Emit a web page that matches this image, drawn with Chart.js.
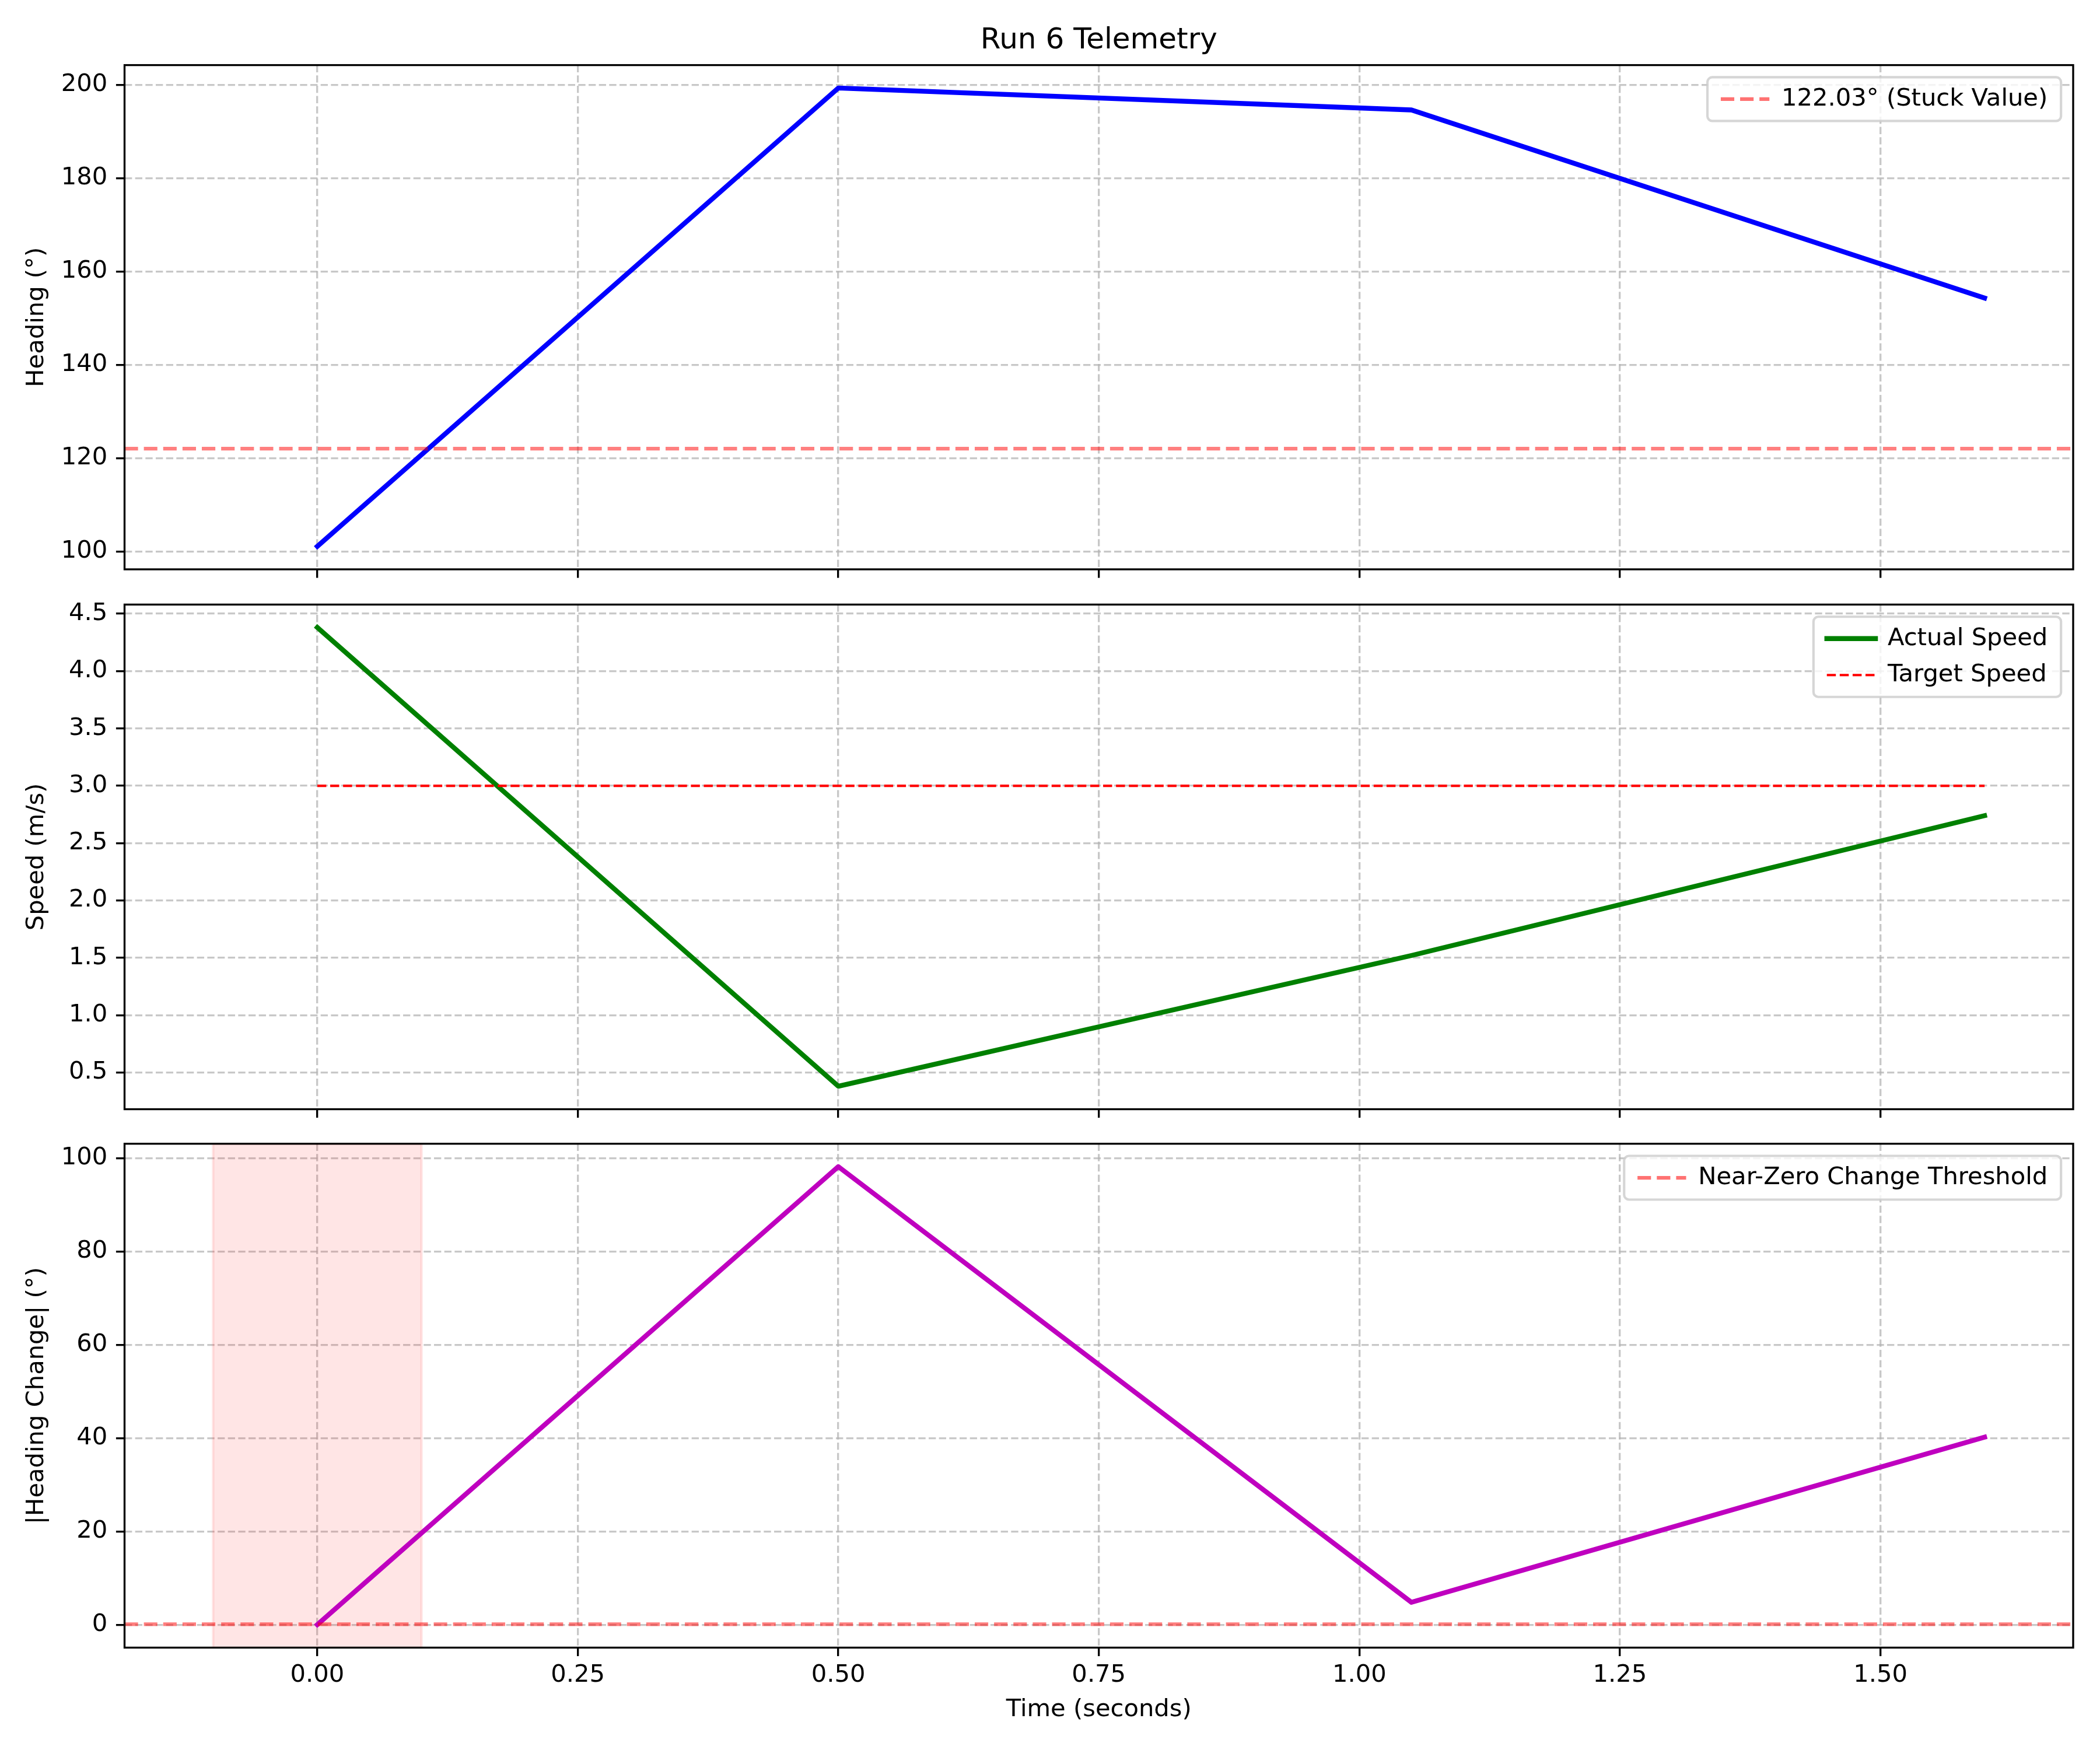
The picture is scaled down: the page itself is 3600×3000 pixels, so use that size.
<!DOCTYPE html>
<html>
<head>
<meta charset="utf-8">
<script src="https://cdn.jsdelivr.net/npm/chart.js@4.4.1/dist/chart.umd.min.js"></script>
<style>
html, body { margin: 0; padding: 0; background: #ffffff; }
#wrap { position: relative; width: 3600px; height: 3000px; background: #ffffff; overflow: hidden; }
#wrap canvas { position: absolute; left: 0; }
</style>
</head>
<body>
<div id="wrap">
  <canvas id="c1" width="3600" height="996" style="top:0px"></canvas>
  <canvas id="c2" width="3600" height="926" style="top:996px"></canvas>
  <canvas id="c3" width="3600" height="1080" style="top:1920px"></canvas>
</div>
<script>
// ---------------- data ----------------
const timeS = [0, 0.5, 1.05, 1.6];
const heading = [101.1, 199.3, 194.6, 154.3];
const actualSpeed = [4.38, 0.38, 1.52, 2.74];
const targetSpeed = [3.0, 3.0, 3.0, 3.0];
const headingChange = [0, 98.2, 4.8, 40.2];
const stuckValue = 122.03;
const nearZeroThreshold = 0.1;
const flagSpan = [-0.1, 0.1];

const xTicks = [0, 0.25, 0.5, 0.75, 1.0, 1.25, 1.5];
const headingTicks = [100, 120, 140, 160, 180, 200];
const speedTicks = [0.5, 1.0, 1.5, 2.0, 2.5, 3.0, 3.5, 4.0, 4.5];
const changeTicks = [0, 20, 40, 60, 80, 100];

const chartTitle = 'Run 6 Telemetry';
const xTitle = 'Time (seconds)';
const headingTitle = 'Heading (°)';
const speedTitle = 'Speed (m/s)';
const changeTitle = '|Heading Change| (°)';
const stuckLabel = stuckValue.toFixed(2) + '° (Stuck Value)';
const actualLabel = 'Actual Speed';
const targetLabel = 'Target Speed';
const thresholdLabel = 'Near-Zero Change Threshold';

// ---------------- styling helpers ----------------
const PX = 300 / 72;
const FS = 10 * PX;
const TS = 12 * PX;
const dash = (lw) => [3.7 * lw * PX, 1.6 * lw * PX];

function pad5(vals) {
  const lo = Math.min(...vals), hi = Math.max(...vals), r = hi - lo;
  return [lo - 0.05 * r, hi + 0.05 * r];
}
const xLim = pad5([...timeS, ...flagSpan]);
const headingLim = pad5([...heading, stuckValue]);
const speedLim = pad5([...actualSpeed, ...targetSpeed]);
const changeLim = pad5([...headingChange, nearZeroThreshold]);

const pts = (xs, ys) => xs.map((x, i) => ({ x: x, y: ys[i] }));
const hline = (y) => [{ x: xLim[0], y: y }, { x: xLim[1], y: y }];

Chart.defaults.font.family = "'DejaVu Sans', 'Liberation Sans', sans-serif";
Chart.defaults.font.size = FS;
Chart.defaults.color = '#000000';

const AX_LEFT = 213.5;
const PAD_RIGHT = 3600 - 3554;

// matplotlib-like legend geometry
const BORDERPAD = 0.4 * FS, AXPAD = 0.5 * FS, TEXTPAD = 0.8 * FS, LABELSP = 0.5 * FS;

const mplLegend = {
  id: 'mplLegend',
  beforeUpdate(chart) {
    const lg = chart.legend;
    if (lg && !lg.__mpl) {
      lg.__mpl = true;
      const fit0 = lg.fit;
      lg.fit = function () { fit0.call(this); this.__w = this.width; this.width = 0; };
    }
  },
  afterLayout(chart) {
    const lg = chart.legend;
    if (!lg || !lg.columnSizes || !lg.columnSizes.length || !lg.legendItems) return;
    const a = chart.chartArea;
    const p = lg.options.labels.padding;
    const n = lg.legendItems.length;
    const cw = lg.columnSizes[0].width;
    const extra = TEXTPAD - FS / 2;
    const fw = cw + 2 * BORDERPAD + extra;
    const fh = 2 * BORDERPAD + n * FS + (n - 1) * LABELSP;
    const fr = a.right - AXPAD, ft = a.top + AXPAD, fl = fr - fw;
    lg.__frame = { x: fl, y: ft, w: fw, h: fh };
    lg.left = fl + BORDERPAD - p + extra / 2;
    lg.top = ft + BORDERPAD - p;
    lg.width = lg.__w;
    lg.right = lg.left + lg.width;
    lg.height = p + n * (FS + p) + 2;
    lg.bottom = lg.top + lg.height;
  },
  afterDatasetsDraw(chart) {
    const a = chart.chartArea, ctx = chart.ctx;
    ctx.save();
    ctx.strokeStyle = '#000000';
    ctx.lineWidth = 0.8 * PX;
    ctx.strokeRect(a.left, a.top, a.right - a.left, a.bottom - a.top);
    ctx.restore();
  },
  afterDraw(chart) {
    const lg = chart.legend;
    if (!lg || !lg.__frame) return;
    const f = lg.__frame, ctx = chart.ctx, r = 0.2 * FS;
    ctx.save();
    ctx.beginPath();
    ctx.moveTo(f.x + r, f.y);
    ctx.lineTo(f.x + f.w - r, f.y);
    ctx.arcTo(f.x + f.w, f.y, f.x + f.w, f.y + r, r);
    ctx.lineTo(f.x + f.w, f.y + f.h - r);
    ctx.arcTo(f.x + f.w, f.y + f.h, f.x + f.w - r, f.y + f.h, r);
    ctx.lineTo(f.x + r, f.y + f.h);
    ctx.arcTo(f.x, f.y + f.h, f.x, f.y + f.h - r, r);
    ctx.lineTo(f.x, f.y + r);
    ctx.arcTo(f.x, f.y, f.x + r, f.y, r);
    ctx.closePath();
    ctx.fillStyle = 'rgba(255,255,255,0.8)';
    ctx.fill();
    ctx.strokeStyle = 'rgba(204,204,204,0.8)';
    ctx.lineWidth = 1.0 * PX;
    ctx.stroke();
    ctx.restore();
    lg.draw();
  }
};

function gridOpts() {
  return {
    color: 'rgba(176,176,176,0.7)',
    lineWidth: 0.8 * PX,
    drawTicks: true,
    tickLength: 3.5 * PX,
    tickWidth: 0.8 * PX,
    tickColor: '#000000',
    tickBorderDash: []
  };
}

function zeroPad(s) { s.paddingLeft = 0; s.paddingRight = 0; s.paddingTop = 0; s.paddingBottom = 0; }

function makeChart(id, cfg) {
  const showX = !!cfg.showXLabels;
  return new Chart(document.getElementById(id), {
    type: 'line',
    data: { datasets: cfg.datasets },
    options: {
      responsive: false,
      animation: false,
      devicePixelRatio: 1,
      events: [],
      layout: { autoPadding: false, padding: { left: 0, right: PAD_RIGHT, top: cfg.padTop, bottom: 0 } },
      elements: { point: { radius: 0, hoverRadius: 0 }, line: { tension: 0 } },
      plugins: {
        tooltip: { enabled: false },
        title: cfg.title ? {
          display: true, text: cfg.title, fullSize: false, align: 'center', position: 'top',
          font: { size: TS, weight: 'normal' }, color: '#000000',
          padding: { top: 40, bottom: 111.6 - 40 - TS * 1.2 }
        } : { display: false },
        legend: {
          display: true,
          position: 'right',
          align: 'start',
          labels: {
            usePointStyle: true,
            pointStyle: 'line',
            pointStyleWidth: 2 * FS,
            padding: LABELSP,
            font: { size: FS },
            color: '#000000',
            filter: (item) => !!item.text,
            sort: (a, b) => a.datasetIndex - b.datasetIndex,
            generateLabels(chart) {
              const base = Chart.defaults.plugins.legend.labels.generateLabels(chart);
              return base.map((it) => {
                const ds = chart.data.datasets[it.datasetIndex];
                return Object.assign(it, {
                  lineDash: ds.borderDash || [],
                  lineWidth: ds.borderWidth,
                  strokeStyle: ds.borderColor,
                  pointStyle: 'line',
                  lineCap: ds.borderDash ? 'butt' : 'square'
                });
              });
            }
          }
        }
      },
      scales: {
        x: {
          type: 'linear', position: 'bottom', bounds: 'data',
          min: xLim[0], max: xLim[1],
          afterBuildTicks: (s) => { s.ticks = xTicks.map((v) => ({ value: v })); },
          afterFit: (s) => { s.height = cfg.xHeight; zeroPad(s); },
          ticks: {
            autoSkip: false, maxRotation: 0, minRotation: 0,
            padding: 8, font: { size: FS }, color: '#000000',
            callback: (v) => showX ? Number(v).toFixed(2) : ''
          },
          grid: gridOpts(),
          border: { display: false, dash: dash(0.8) },
          title: showX ? {
            display: true, text: xTitle, font: { size: FS }, color: '#000000',
            padding: { top: 0, bottom: 44 }
          } : { display: false }
        },
        y: {
          type: 'linear', position: 'left', bounds: 'data',
          min: cfg.yLim[0], max: cfg.yLim[1],
          afterBuildTicks: (s) => { s.ticks = cfg.yTicks.map((v) => ({ value: v })); },
          afterFit: (s) => { s.width = AX_LEFT; zeroPad(s); },
          ticks: {
            autoSkip: false, padding: 3.5 * PX, font: { size: FS }, color: '#000000',
            callback: cfg.yFmt
          },
          grid: gridOpts(),
          border: { display: false, dash: dash(0.8) },
          title: {
            display: true, text: cfg.yTitle, font: { size: FS }, color: '#000000',
            padding: { top: 38, bottom: 0 }
          }
        }
      }
    },
    plugins: [mplLegend]
  });
}

// ---------------- panel 1: heading ----------------
makeChart('c1', {
  title: chartTitle,
  padTop: 0,
  xHeight: 20,
  yLim: headingLim,
  yTicks: headingTicks,
  yFmt: (v) => String(v),
  yTitle: headingTitle,
  datasets: [
    {
      label: stuckLabel, data: hline(stuckValue),
      borderColor: 'rgba(255,0,0,0.5)', borderWidth: 1.5 * PX, borderDash: dash(1.5),
      borderCapStyle: 'butt', borderJoinStyle: 'round', fill: false, pointRadius: 0
    },
    {
      label: '', data: pts(timeS, heading),
      borderColor: '#0000ff', borderWidth: 2 * PX,
      borderCapStyle: 'square', borderJoinStyle: 'round', fill: false, pointRadius: 0
    }
  ]
});

// ---------------- panel 2: speed ----------------
makeChart('c2', {
  padTop: 1036.4 - 996,
  xHeight: 926 - (1901.5 - 996),
  yLim: speedLim,
  yTicks: speedTicks,
  yFmt: (v) => Number(v).toFixed(1),
  yTitle: speedTitle,
  datasets: [
    {
      label: actualLabel, data: pts(timeS, actualSpeed), order: 1,
      borderColor: '#008000', borderWidth: 2 * PX,
      borderCapStyle: 'square', borderJoinStyle: 'round', fill: false, pointRadius: 0
    },
    {
      label: targetLabel, data: pts(timeS, targetSpeed), order: 0,
      borderColor: '#ff0000', borderWidth: 1 * PX, borderDash: dash(1),
      borderCapStyle: 'butt', borderJoinStyle: 'round', fill: false, pointRadius: 0
    }
  ]
});

// ---------------- panel 3: |heading change| ----------------
makeChart('c3', {
  showXLabels: true,
  padTop: 1960.7 - 1920,
  xHeight: 1080 - (2824.5 - 1920),
  yLim: changeLim,
  yTicks: changeTicks,
  yFmt: (v) => String(v),
  yTitle: changeTitle,
  datasets: [
    {
      label: thresholdLabel, data: hline(nearZeroThreshold),
      borderColor: 'rgba(255,0,0,0.5)', borderWidth: 1.5 * PX, borderDash: dash(1.5),
      borderCapStyle: 'butt', borderJoinStyle: 'round', fill: false, pointRadius: 0
    },
    {
      label: '', data: pts(timeS, headingChange),
      borderColor: '#bf00bf', borderWidth: 2 * PX,
      borderCapStyle: 'square', borderJoinStyle: 'round', fill: false, pointRadius: 0
    },
    {
      label: '',
      data: [
        { x: flagSpan[0], y: changeLim[0] },
        { x: flagSpan[0], y: changeLim[1] },
        { x: flagSpan[1], y: changeLim[1] },
        { x: flagSpan[1], y: changeLim[0] }
      ],
      borderColor: 'rgba(255,0,0,0.1)', backgroundColor: 'rgba(255,0,0,0.1)',
      borderWidth: 1 * PX, fill: 'start', pointRadius: 0
    }
  ]
});
</script>
</body>
</html>
